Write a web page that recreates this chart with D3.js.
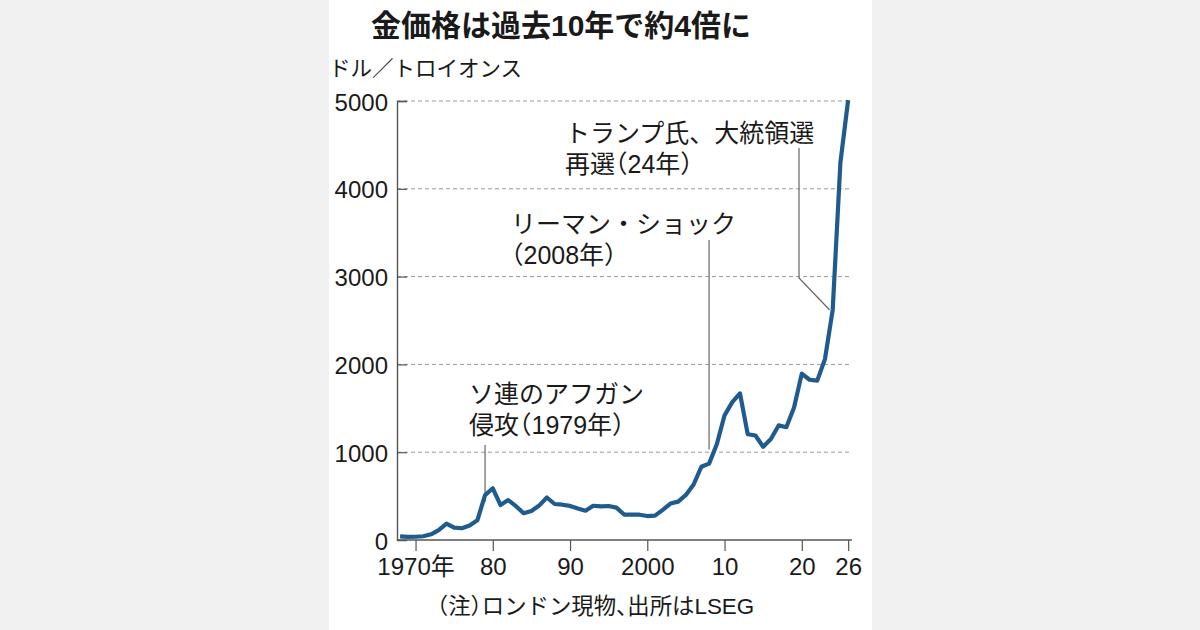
<!DOCTYPE html>
<html>
<head>
<meta charset="utf-8">
<script src="https://cdn.jsdelivr.net/npm/d3@7"></script>
<style>
	body { margin: 0; background: #f1f1f1; }
	svg { display: block; }
	text { font-family: "Liberation Sans", "Noto Sans CJK JP", sans-serif; fill: #1a1a1a; }
	.half-paren { font-feature-settings: "halt" 1; }
</style>
</head>
<body>
<div id="chart-area"></div>
<script>

// SVG Size
var width = 1200,
	height = 630;

// Gold price, USD per troy ounce (year end)
var years = [1968, 1969, 1970, 1971, 1972, 1973, 1974, 1975, 1976, 1977,
	1978, 1979, 1980, 1981, 1982, 1983, 1984, 1985, 1986, 1987,
	1988, 1989, 1990, 1991, 1992, 1993, 1994, 1995, 1996, 1997,
	1998, 1999, 2000, 2001, 2002, 2003, 2004, 2005, 2006, 2007,
	2008, 2009, 2010, 2011, 2012, 2013, 2014, 2015, 2016, 2017,
	2018, 2019, 2020, 2021, 2022, 2023, 2024, 2025, 2026];

var prices = [41, 35, 37, 43, 65, 112, 186, 140, 134, 165,
	224, 512, 589, 398, 455, 385, 305, 330, 392, 484,
	410, 402, 388, 358, 333, 390, 383, 387, 369, 290,
	288, 288, 273, 278, 343, 415, 437, 513, 632, 834,
	870, 1090, 1420, 1570, 1670, 1205, 1190, 1062, 1150, 1305,
	1285, 1510, 1895, 1825, 1815, 2060, 2620, 4300, 5010];

var yTicks = [0, 1000, 2000, 3000, 4000, 5000];
var xTicks = [1970, 1980, 1990, 2000, 2010, 2020, 2026];
var xTickLabels = ["1970年", "80", "90", "2000", "10", "20", "26"];

var title = "金価格は過去10年で約4倍に";
var unitLabel = "ドル／トロイオンス";
var note = "（注）ロンドン現物、出所はLSEG";

// annotations: text lines and the year they point at
var notes = [
	{ lines: ["ソ連のアフガン", "侵攻（1979年）"], year: 1979 },
	{ lines: ["リーマン・ショック", "（2008年）"], year: 2008 },
	{ lines: ["トランプ氏、大統領選", "再選（24年）"], year: 2024 }
];

var data = years.map(function(y, i) {
	return { year: y, price: prices[i] };
});

var svg = d3.select("#chart-area")
	.append("svg")
	.attr("width", width)
	.attr("height", height);

// white panel in the middle, grey on both sides
svg.append("rect")
	.attr("x", 329)
	.attr("y", 0)
	.attr("width", 543)
	.attr("height", height)
	.attr("fill", "#ffffff");

// Scales
var x = d3.scaleLinear()
	.domain([1967.6, 2026.5])
	.range([397, 852]);

var y = d3.scaleLinear()
	.domain([0, 5000])
	.range([540, 101]);

// grid lines (dashed)
svg.append("g")
	.selectAll("line")
	.data(yTicks.slice(1))
	.enter()
	.append("line")
	.attr("x1", x.range()[0])
	.attr("x2", x.range()[1])
	.attr("y1", function(d) { return y(d); })
	.attr("y2", function(d) { return y(d); })
	.attr("stroke", "#9a9a9a")
	.attr("stroke-width", 1)
	.attr("stroke-dasharray", "4,3");

// y axis, short ticks pointing inward
var yAxis = d3.axisLeft(y)
	.tickValues(yTicks)
	.tickSize(-10)
	.tickPadding(9)
	.tickFormat(function(d) { return d; });

var gy = svg.append("g")
	.attr("transform", "translate(" + x.range()[0] + ",0)")
	.call(yAxis);

gy.select(".domain").attr("stroke", "#555").attr("stroke-width", 1.4);
gy.selectAll(".tick line").attr("stroke", "#555").attr("stroke-width", 1.2);
gy.selectAll(".tick text")
	.style("font-size", "24px")
	.attr("fill", "#1a1a1a")
	.attr("dy", "0.38em");
gy.selectAll(".tick").filter(function(d) { return d === 0; }).select("line").remove();

// x axis
var xAxis = d3.axisBottom(x)
	.tickValues(xTicks)
	.tickSize(11)
	.tickPadding(7)
	.tickFormat(function(d, i) { return xTickLabels[i]; });

var gx = svg.append("g")
	.attr("transform", "translate(0," + y(0) + ")")
	.call(xAxis);

gx.select(".domain").attr("d", "M" + x.range()[0] + ",0H" + x.range()[1]).attr("stroke", "#555").attr("stroke-width", 1.4);
gx.selectAll(".tick line").attr("stroke", "#555").attr("stroke-width", 1.2);
gx.selectAll(".tick text")
	.style("font-size", "24px")
	.attr("fill", "#1a1a1a");

// leader lines of the annotations
var leader = svg.append("g")
	.attr("fill", "none")
	.attr("stroke", "#666")
	.attr("stroke-width", 1.2);

var priceAt = function(yr) { return prices[years.indexOf(yr)]; };

leader.append("path")
	.attr("d", "M" + x(notes[0].year) + ",445V" + (y(priceAt(notes[0].year)) + 7));
leader.append("path")
	.attr("d", "M" + x(notes[1].year) + ",240V" + (y(priceAt(notes[1].year)) - 14));
leader.append("path")
	.attr("d", "M799,148V278L" + (x(notes[2].year) - 3) + "," + y(priceAt(notes[2].year)));

// the price line
var line = d3.line()
	.x(function(d) { return x(d.year); })
	.y(function(d) { return y(d.price); });

svg.append("path")
	.datum(data)
	.attr("d", line)
	.attr("fill", "none")
	.attr("stroke", "#1f5b8e")
	.attr("stroke-width", 4.2)
	.attr("stroke-linejoin", "round")
	.attr("stroke-linecap", "butt");

// annotation texts
var notePos = [[469, 403], [511, 233], [565, 142]];

notes.forEach(function(n, i) {
	var t = svg.append("text")
		.attr("x", notePos[i][0])
		.attr("y", notePos[i][1])
		.style("font-size", "25px");
	n.lines.forEach(function(l, j) {
		t.append("tspan")
			.attr("x", notePos[i][0])
			.attr("dy", j === 0 ? 0 : 31)
			.classed("half-paren", l.indexOf("（") >= 0)
			.text(l);
	});
});

// title, unit, source note
svg.append("text")
	.attr("x", 561)
	.attr("y", 36)
	.attr("text-anchor", "middle")
	.style("font-size", "30px")
	.style("font-weight", "bold")
	.text(title);

svg.append("text")
	.attr("x", 329)
	.attr("y", 76)
	.style("font-size", "21.5px")
	.text(unitLabel);

svg.append("text")
	.attr("x", 437)
	.attr("y", 614)
	.attr("class", "half-paren")
	.style("font-size", "22.4px")
	.text(note);

</script>
</body>
</html>
